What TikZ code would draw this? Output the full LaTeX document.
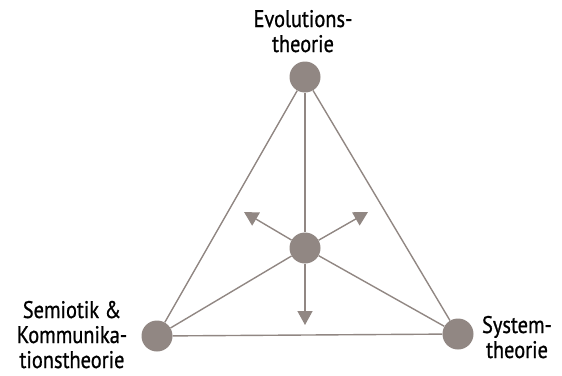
\documentclass[tikz,border=0pt]{standalone}
\usepackage{fontspec}
\setmainfont[FakeStretch=0.85,UprightFeatures={FakeBold=0.8}]{PT Sans}
\usetikzlibrary{arrows.meta}
\definecolor{stone}{HTML}{918783}

\begin{document}
\begin{tikzpicture}[x=1pt,y=-1pt,
    dot/.style={circle, fill=stone, inner sep=0pt, minimum size=31pt},
    edge/.style={stone, line width=1.4pt},
    push/.style={stone, line width=1.4pt, -{Triangle[length=14pt,width=15pt]}},
    caption/.style={align=center, anchor=base, font=\fontsize{24}{25}\selectfont, inner sep=0pt}]
                    \useasboundingbox (0,0) rectangle (562,375);
                    \node[dot] (E) at (305,77) {};
                    \node[dot] (M) at (305,248) {};
                    \node[dot] (S) at (157,336) {};
                    \node[dot] (T) at (458,334) {};
                    \coordinate (UL) at (244,212);
                    \coordinate (UR) at (368,212);
                    \coordinate (DN) at (305,325);
                    \draw[edge] (E) -- (S);
                    \draw[edge] (E) -- (T);
                    \draw[edge] (S) -- (T);
                    \draw[edge] (M) -- (E);
                    \draw[edge] (M) -- (S);
                    \draw[edge] (M) -- (T);
                    \draw[push] (M) -- (UL);
                    \draw[push] (M) -- (UR);
                    \draw[push] (M) -- (DN);
                    \node[caption] (LE) at (303,52) {Evolutions-\\theorie};
                    \node[caption] (LS) at (72,368) {Semiotik \&\\Kommunika-\\tionstheorie};
                    \node[caption] (LT) at (517,358) {System-\\theorie};
                \end{tikzpicture}
\end{document}
